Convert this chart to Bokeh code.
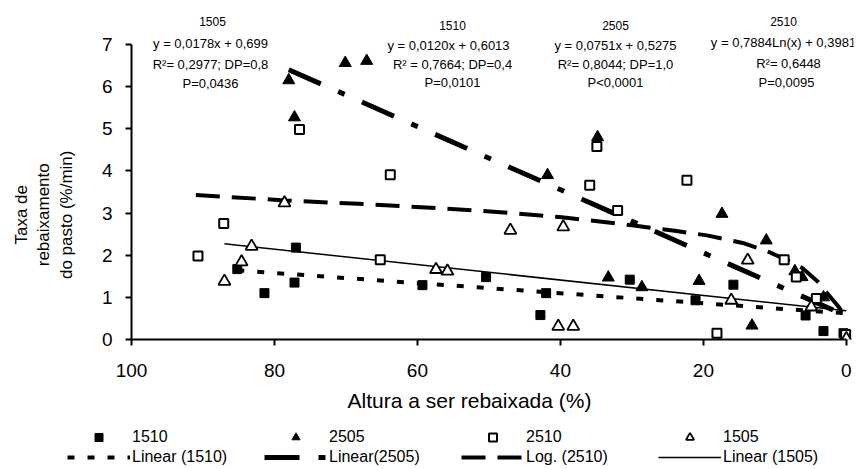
from math import pi
from bokeh.plotting import figure
from bokeh.layouts import column, row
from bokeh.models import Range1d, Label, Legend, LegendItem, FixedTicker
from bokeh.embed import file_html
from bokeh.resources import INLINE

# ---- data ----
x_1510 = [85.2, 81.4, 77.0, 77.2, 59.3, 50.4, 42.0, 42.8, 30.3, 21.1, 15.8, 5.7, 3.2, 0.4]
y_1510 = [1.67, 1.10, 2.18, 1.35, 1.29, 1.48, 1.10, 0.58, 1.42, 0.93, 1.30, 0.57, 0.20, 0.15]

x_2505 = [78.0, 77.2, 70.1, 67.1, 41.8, 34.8, 33.3, 28.6, 20.6, 17.4, 13.2, 11.2, 7.2, 6.2, 3.2]
y_2505 = [6.15, 5.27, 6.56, 6.61, 3.90, 4.80, 1.47, 1.24, 1.39, 2.98, 0.33, 2.35, 1.62, 1.48, 1.00]

x_2510 = [90.7, 87.1, 76.5, 65.2, 63.8, 35.9, 34.9, 32.0, 22.3, 18.1, 8.7, 7.0, 4.2, 0.1]
y_2510 = [1.98, 2.75, 4.98, 1.89, 3.91, 3.66, 4.58, 3.06, 3.78, 0.15, 1.89, 1.48, 0.97, 0.12]

x_1505 = [87.0, 84.6, 83.2, 78.6, 57.4, 55.8, 47.0, 40.3, 39.6, 38.2, 16.1, 13.8, 4.9, 0.0]
y_1505 = [1.38, 1.84, 2.21, 3.24, 1.66, 1.62, 2.59, 0.31, 2.67, 0.31, 0.93, 1.88, 0.77, 0.02]

# trend lines
tr_1510_x = [85.2, 0.0]
tr_1510_y = [1.64, 0.62]
tr_2505_x = [78.0, 0.0]
tr_2505_y = [6.40, 0.56]
tr_1505_x = [87.0, 0.0]
tr_1505_y = [2.27, 0.68]
tr_2510_x = [91.0, 78.6, 68.3, 51.5, 39.8, 30.0, 24.0, 19.5, 14.5, 11.3, 8.5, 6.2, 3.9, 2.7, 1.2, 0.2]
tr_2510_y = [3.43, 3.30, 3.22, 3.06, 2.90, 2.71, 2.58, 2.47, 2.29, 2.11, 1.90, 1.70, 1.36, 1.10, 0.80, 0.57]

x_ticks = [0, 20, 40, 60, 80, 100]
y_ticks = [0, 1, 2, 3, 4, 5, 6, 7]

x_title = "Altura a ser rebaixada (%)"
y_title_lines = ["Taxa de", "rebaixamento", "do pasto (%/min)"]

series_titles = ["1505", "1510", "2505", "2510"]
equations = ["y = 0,0178x + 0,699", "y = 0,0120x + 0,6013", "y = 0,0751x + 0,5275", "y = 0,7884Ln(x) + 0,3981"]
r2_texts = ["R²= 0,2977; DP=0,8", "R² = 0,7664; DP=0,4", "R²= 0,8044; DP=1,0", "R²= 0,6448"]
p_texts = ["P=0,0436", "P=0,0101", "P<0,0001", "P=0,0095"]

legend_marker_labels = ["1510", "2505", "2510", "1505"]
legend_line_labels = ["Linear (1510)", "Linear(2505)", "Log. (2510)", "Linear (1505)"]

FONT = "Liberation Sans"

# styles
sty_1510 = dict(marker="square", size=9, fill_color="black", line_color="black", line_width=1)
sty_2505 = dict(marker="triangle", size=12, fill_color="black", line_color="black", line_width=1)
sty_2510 = dict(marker="square", size=9, fill_color="white", line_color="black", line_width=2)
sty_1505 = dict(marker="triangle", size=12, fill_color="white", line_color="black", line_width=1.8)
lsty_1510 = dict(line_color="black", line_width=4, line_dash="7 13")
lsty_2505 = dict(line_color="black", line_width=5, line_dash="35 19 7 19")
lsty_2510 = dict(line_color="black", line_width=4, line_dash="24 12")
lsty_1505 = dict(line_color="black", line_width=1.5)

LEFT_W = 90
MAIN_H = 388
TOTAL_W = 863
TOTAL_H = 469
BOT_H = TOTAL_H - MAIN_H

# ---------------- main plot ----------------
p = figure(width=TOTAL_W - LEFT_W, height=MAIN_H, output_backend="svg", toolbar_location=None,
           x_range=Range1d(100, -1.0), y_range=Range1d(0, 7.758),
           min_border_left=131 - LEFT_W, min_border_right=10, min_border_top=12,
           min_border_bottom=MAIN_H - 339)
p.outline_line_color = None
p.xgrid.visible = False
p.ygrid.visible = False

for ax in (p.xaxis[0], p.yaxis[0]):
    ax.axis_line_width = 2
    ax.axis_line_color = "black"
    ax.major_tick_line_width = 2
    ax.major_tick_line_color = "black"
    ax.minor_tick_line_color = None
    ax.major_tick_in = 0
    ax.major_tick_out = 6
    ax.major_label_text_font = FONT
    ax.major_label_text_font_size = "19px"
    ax.major_label_text_color = "black"

p.xaxis.ticker = FixedTicker(ticks=x_ticks)
p.yaxis.ticker = FixedTicker(ticks=y_ticks)
p.xaxis.bounds = (0, 100)
p.yaxis.bounds = (0, 7)
p.xaxis.major_label_standoff = 18
p.yaxis.major_label_standoff = 13

p.line(tr_1510_x, tr_1510_y, **lsty_1510)
p.line(tr_2505_x, tr_2505_y, **lsty_2505)
p.line(tr_2510_x, tr_2510_y, **lsty_2510)
p.line(tr_1505_x, tr_1505_y, **lsty_1505)

p.scatter(x_1510, y_1510, **sty_1510)
p.scatter(x_2505, y_2505, **sty_2505)
p.scatter(x_2510, y_2510, **sty_2510)
p.scatter(x_1505, y_1505, **sty_1505)

# annotations above the data (screen offsets from frame bottom-left)
title_pos = [(81, 318), (321, 314), (484, 314), (652, 318)]
eq_pos = [(79, 296), (317, 294), (484, 294), (652, 297)]
r2_pos = [(79, 275), (321, 275), (484, 275), (657, 276)]
p_pos = [(79, 256), (321, 257), (484, 257), (655, 257)]
for i in range(4):
    for txt, (sx, sy), fs in ((series_titles[i], title_pos[i], "12px"),
                              (equations[i], eq_pos[i], "13px"),
                              (r2_texts[i], r2_pos[i], "13px"),
                              (p_texts[i], p_pos[i], "13px")):
        p.add_layout(Label(x=sx, y=sy, x_units="screen", y_units="screen", text=txt,
                           text_align="center", text_baseline="middle",
                           text_font=FONT, text_font_size=fs, text_color="black"))

# ---------------- left strip: y title ----------------
lf = figure(width=LEFT_W, height=MAIN_H, output_backend="svg", toolbar_location=None,
            x_range=Range1d(0, LEFT_W), y_range=Range1d(0, MAIN_H),
            x_axis_location=None, y_axis_location=None,
            min_border_left=0, min_border_right=0, min_border_top=0, min_border_bottom=0)
lf.outline_line_color = None
lf.xgrid.visible = False
lf.ygrid.visible = False
ytitle_x = [21, 43, 66]
ytitle_center_y = 240
for txt, px in zip(y_title_lines, ytitle_x):
    lf.add_layout(Label(x=px, y=MAIN_H - ytitle_center_y, text=txt, angle=pi / 2,
                        text_align="center", text_baseline="middle",
                        text_font=FONT, text_font_size="17px", text_color="black"))

# ---------------- bottom strip: x title + legends ----------------
bf = figure(width=TOTAL_W, height=BOT_H, output_backend="svg", toolbar_location=None,
            x_range=Range1d(0, TOTAL_W), y_range=Range1d(0, BOT_H),
            x_axis_location=None, y_axis_location=None,
            min_border_left=0, min_border_right=0, min_border_top=0, min_border_bottom=0)
bf.outline_line_color = None
bf.xgrid.visible = False
bf.ygrid.visible = False
bf.add_layout(Label(x=469, y=TOTAL_H - 400, text=x_title,
                    text_align="center", text_baseline="middle",
                    text_font=FONT, text_font_size="21px", text_color="black"))

# legend-only renderers (hidden; they only provide the legend glyph styles)
lm = [bf.scatter(xs, ys, visible=False, **s) for xs, ys, s in
      ((x_1510, y_1510, sty_1510), (x_2505, y_2505, sty_2505),
       (x_2510, y_2510, sty_2510), (x_1505, y_1505, sty_1505))]
ll = [bf.line(xs, ys, visible=False, **s) for xs, ys, s in
      ((tr_1510_x, tr_1510_y, lsty_1510), (tr_2505_x, tr_2505_y, lsty_2505),
       (tr_2510_x, tr_2510_y, lsty_2510), (tr_1505_x, tr_1505_y, lsty_1505))]


def make_legend(labels, rends, loc):
    return Legend(items=[LegendItem(label=t, renderers=[r]) for t, r in zip(labels, rends)],
                  orientation="horizontal", location=loc,
                  glyph_width=63, glyph_height=20, label_width=132, label_height=20,
                  label_standoff=2, spacing=0, padding=0, margin=0,
                  border_line_color=None, background_fill_alpha=0,
                  inactive_fill_alpha=0, click_policy="none",
                  label_text_font=FONT, label_text_font_size="16px", label_text_color="black")


row1_center = 437
row2_center = 457
bf.add_layout(make_legend(legend_marker_labels, lm, (67, TOTAL_H - row1_center - 10)))
bf.add_layout(make_legend(legend_line_labels, ll, (67, TOTAL_H - row2_center - 10)))

layout = column(row(lf, p), bf)
open("out.html", "w").write(file_html(layout, INLINE))
